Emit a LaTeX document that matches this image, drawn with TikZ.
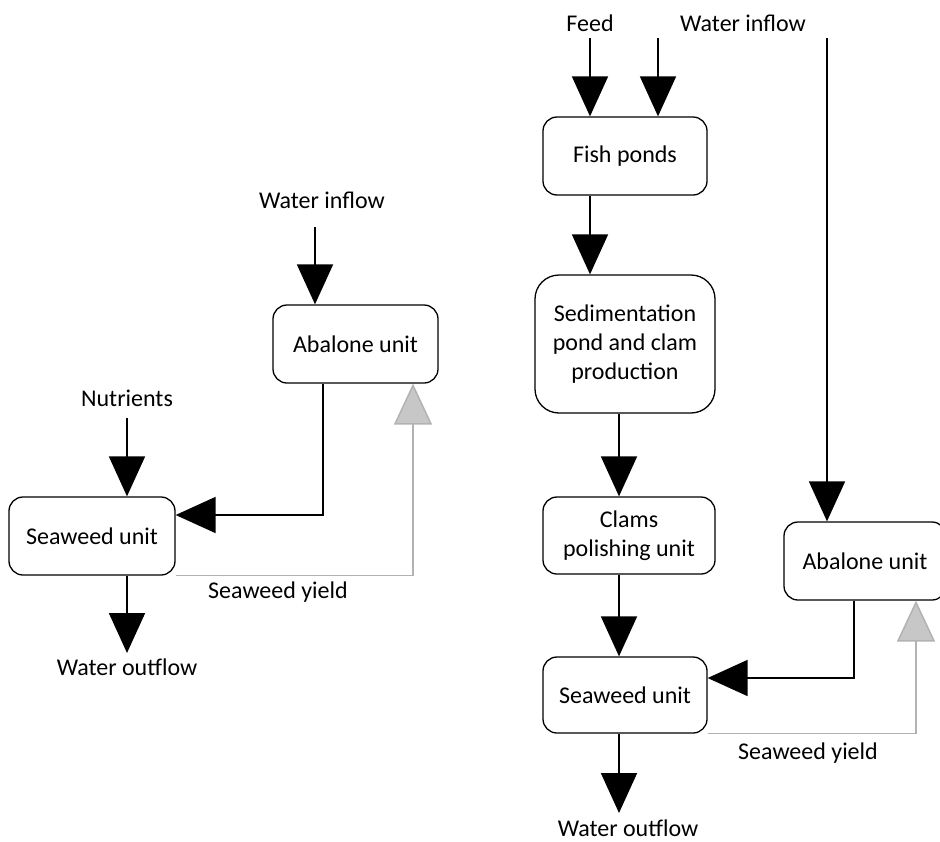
\documentclass[tikz,border=0pt]{standalone}
\usepackage{fontspec}
\setmainfont{Carlito}
\usetikzlibrary{arrows.meta}
\begin{document}
\begin{tikzpicture}[x=1pt,y=-1pt,
  txt/.style={font=\fontsize{24}{28.8}\selectfont, text=black},
  box/.style={txt, draw, line width=1.3pt, rounded corners=14pt, align=center, inner sep=0pt},
  lbl/.style={txt, inner sep=0pt},
  flow/.style={line width=1.8pt, -{Triangle[width=36pt,length=40pt]}},
  yieldflow/.style={line width=1.5pt, draw=black!30, -{Triangle[width=38pt,length=41pt,fill=black!22]}}
]
\useasboundingbox (0,0) rectangle (940,841);
\clip (0,0) rectangle (940,841);

% ---------- left diagram ----------
\node[lbl] (winL) at (322,200) {Water inflow};
\coordinate (winLs) at (315,227);
\node[box, minimum width=165pt, minimum height=78pt] (abL) at (355.5,344) {Abalone unit};
\node[lbl] (nut) at (127,398) {Nutrients};
\coordinate (nuts) at (127,418);
\node[box, minimum width=166pt, minimum height=78pt] (swL) at (92,536) {Seaweed unit};
\node[lbl] (ylL) at (278,592) {Seaweed yield};
\node[lbl] (woL) at (127,667) {Water outflow};
\coordinate (cL) at (323,515);
\coordinate (gL) at (413,0);
\coordinate (woLt) at (127,653);

\draw[flow] (winLs) -- (abL.north -| winLs);
\draw[flow] (nuts) -- (swL.north -| nuts);
\draw[flow] (abL.south -| cL) -- (cL) -- (swL.east |- cL);
\draw[yieldflow] (swL.south east) -| (abL.south -| gL);
\draw[flow] (swL.south -| nuts) -- (woLt);

% ---------- right diagram ----------
\node[lbl] (feed) at (590,23) {Feed};
\node[lbl] (winR) at (743,23) {Water inflow};
\coordinate (feeds) at (590,38);
\coordinate (wins) at (658,38);
\coordinate (wtop) at (827,38);
\node[box, minimum width=164pt, minimum height=78pt] (fish) at (625,156) {Fish ponds};
\node[box, minimum width=180pt, minimum height=138pt, rounded corners=24pt] (sed) at (625,344) {Sedimentation\\pond and clam\\production};
\node[box, minimum width=172pt, minimum height=77pt] (clam) at (629,535.5) {Clams\\polishing unit};
\node[box, minimum width=164pt, minimum height=76pt] (swR) at (625,695) {Seaweed unit};
\node[box, minimum width=162pt, minimum height=78pt] (abR) at (865,561) {Abalone unit};
\node[lbl] (ylR) at (808,753) {Seaweed yield};
\node[lbl] (woR) at (628,828) {Water outflow};
\coordinate (sx) at (619,0);
\coordinate (cR) at (854,678);
\coordinate (gR) at (916,0);
\coordinate (woRt) at (619,813);

\draw[flow] (feeds) -- (fish.north -| feeds);
\draw[flow] (wins) -- (fish.north -| wins);
\draw[flow] (wtop) -- (abR.north -| wtop);
\draw[flow] (fish.south -| feeds) -- (sed.north -| feeds);
\draw[flow] (sed.south -| sx) -- (clam.north -| sx);
\draw[flow] (clam.south -| sx) -- (swR.north -| sx);
\draw[flow] (abR.south -| cR) -- (cR) -- (swR.east |- cR);
\draw[yieldflow] (swR.south east) -| (abR.south -| gR);
\draw[flow] (swR.south -| sx) -- (woRt);
\end{tikzpicture}
\end{document}
